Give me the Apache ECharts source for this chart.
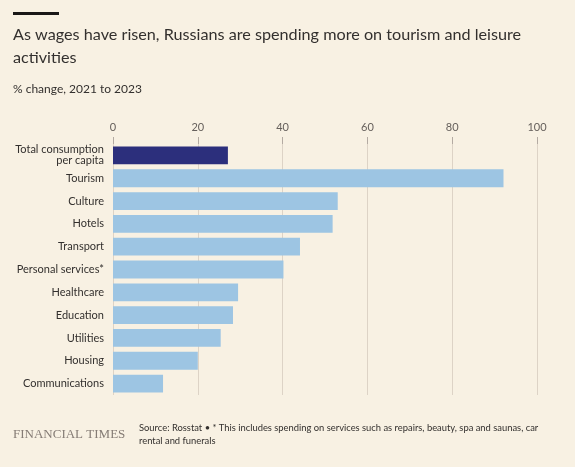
<!DOCTYPE html>
<html>
<head>
<meta charset="utf-8">
<script src="https://cdn.jsdelivr.net/npm/echarts@6/dist/echarts.min.js"></script>
<style>
  html, body { margin: 0; padding: 0; background: #f8f1e3; }
  #chart { width: 575px; height: 467px; }
</style>
</head>
<body>
<div id="chart"></div>
<script>
const categories = [
  "Total consumption\nper capita", "Tourism", "Culture", "Hotels", "Transport",
  "Personal services*", "Healthcare", "Education", "Utilities", "Housing", "Communications"
];
const values = [27.1, 92.1, 53.0, 51.8, 44.1, 40.2, 29.5, 28.3, 25.4, 20.0, 11.8];
const highlightCategory = "Total consumption\nper capita";
const xTicks = [0, 20, 40, 60, 80, 100];

const FONT = "Lato, 'Noto Sans', sans-serif";
const chart = echarts.init(document.getElementById('chart'));
chart.setOption({
  backgroundColor: '#f8f1e3',
  animation: false,
  textStyle: { fontFamily: FONT },
  graphic: [
    { type: 'rect', shape: { x: 13, y: 12, width: 46, height: 3 }, style: { fill: '#1a1817' } },
    { type: 'text', left: 13, top: 23, style: {
        text: 'As wages have risen, Russians are spending more on tourism and leisure\nactivities',
        font: "16.2px " + FONT, fill: '#33302e', lineHeight: 23.5 } },
    { type: 'text', left: 13, top: 83, style: {
        text: '% change, 2021 to 2023', font: "12px " + FONT, fill: '#33302e' } },
    { type: 'text', left: 13, top: 428, style: {
        text: 'FINANCIAL TIMES', font: "13px 'Liberation Serif', 'DejaVu Serif', serif", fill: '#857c75' } },
    { type: 'text', left: 139, top: 421, style: {
        text: 'Source: Rosstat \u2022 * This includes spending on services such as repairs, beauty, spa and saunas, car\nrental and funerals',
        font: "9.4px " + FONT, fill: '#33302e', lineHeight: 13.5 } }
  ],
  grid: { left: 113, right: 38, top: 144, bottom: 72, containLabel: false },
  xAxis: {
    type: 'value', position: 'top', min: 0, max: 100, interval: 20,
    axisLine: { show: false },
    axisTick: { show: true, length: 7, lineStyle: { color: '#b3aaa2' } },
    axisLabel: { margin: 11, fontSize: 11, color: '#66605c', fontFamily: FONT,
      customValues: xTicks },
    splitLine: { show: true, lineStyle: { color: '#ddd3c6', width: 1 } }
  },
  yAxis: {
    type: 'category', data: categories, inverse: true,
    axisLine: { show: false }, axisTick: { show: false },
    axisLabel: { margin: 9, fontSize: 11, color: '#33302e', lineHeight: 11, fontFamily: FONT }
  },
  series: [{
    type: 'bar',
    barCategoryGap: '22%',
    data: values.map((v, i) => ({
      value: v,
      itemStyle: { color: categories[i] === highlightCategory ? '#2c2f7c' : '#9dc5e3' }
    }))
  }]
});
</script>
</body>
</html>
